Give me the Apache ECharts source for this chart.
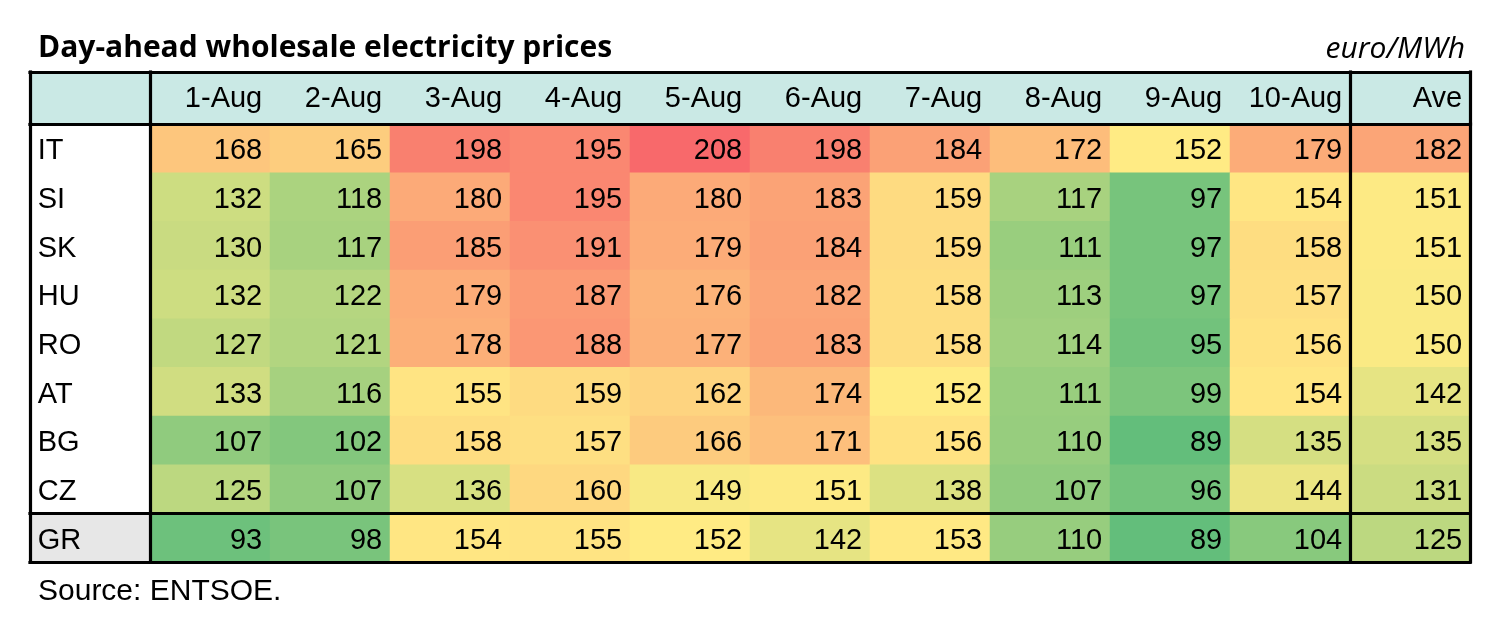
<!DOCTYPE html>
<html>
<head>
<meta charset="utf-8">
<script src="https://cdn.jsdelivr.net/npm/echarts@6/dist/echarts.min.js"></script>
<style>
html,body{margin:0;padding:0;background:#fff;}
#chart{width:1510px;height:624px;}
</style>
</head>
<body>
<div id="chart"></div>
<script>
// ---- data ----
const days = ['1-Aug','2-Aug','3-Aug','4-Aug','5-Aug','6-Aug','7-Aug','8-Aug','9-Aug','10-Aug'];
const aveLabel = 'Ave';
const countries = ['IT','SI','SK','HU','RO','AT','BG','CZ','GR'];
const IT = [168,165,198,195,208,198,184,172,152,179];
const SI = [132,118,180,195,180,183,159,117,97,154];
const SK = [130,117,185,191,179,184,159,111,97,158];
const HU = [132,122,179,187,176,182,158,113,97,157];
const RO = [127,121,178,188,177,183,158,114,95,156];
const AT = [133,116,155,159,162,174,152,111,99,154];
const BG = [107,102,158,157,166,171,156,110,89,135];
const CZ = [125,107,136,160,149,151,138,107,96,144];
const GR = [93,98,154,155,152,142,153,110,89,104];
const averages = [182,151,151,150,150,142,135,131,125];
const rows = [IT,SI,SK,HU,RO,AT,BG,CZ,GR];

// ---- build ----
const xCats = [''].concat(days, [aveLabel]);
const FONT = '"Liberation Sans", Arial, sans-serif';
const TFONT = '"Open Sans", "Liberation Sans", sans-serif';

const cells = [];
rows.forEach((r, i) => {
  r.forEach((v, j) => cells.push([j + 1, i, v]));
  cells.push([days.length + 1, i, averages[i]]);
});
const allVals = cells.map(c => c[2]);
const MIN = Math.min(...allVals), MAX = Math.max(...allVals), MID = 152;

const GREEN = [99,190,123], YELLOW = [255,235,132], RED = [248,105,107];
function mix(a, b, t) { return 'rgb(' + a.map((x, k) => Math.round(x + (b[k] - x) * t)).join(',') + ')'; }
function scaleColor(v) {
  return v <= MID ? mix(GREEN, YELLOW, (v - MIN) / (MID - MIN)) : mix(YELLOW, RED, (v - MID) / (MAX - MID));
}
const stops = [];
for (let i = 0; i <= 119; i++) stops.push(scaleColor(MIN + (MAX - MIN) * i / 119));

const headerCells = xCats.map((c, j) => [j, 0, 0]);
const labelCells = countries.map((c, i) => ({
  value: [0, i, 0],
  itemStyle: { color: c === 'GR' ? '#E7E7E7' : '#FFFFFF' }
}));

// table rule positions, in column / row units
const ruleX = [0, 1, 11, 12];
const headRuleY = [0, 1];
const bodyRuleY = [8, 9];

const rule = (xi, yi, ys) => ({
  type: 'line', xAxisIndex: xi, yAxisIndex: yi, data: [[0, 0]], symbol: 'none',
  lineStyle: { width: 0 }, clip: false, silent: true, z: 10,
  markLine: {
    silent: true, symbol: ['none', 'none'], label: { show: false }, animation: false,
    lineStyle: { color: '#000', width: 3.2, type: 'solid', cap: 'square' },
    emphasis: { disabled: true },
    data: ruleX.map(v => ({ xAxis: v })).concat(ys.map(v => ({ yAxis: v })))
  }
});

const cellLabel = extra => Object.assign({
  show: true, color: '#000', fontFamily: FONT, fontSize: 29, offset: [0, 3]
}, extra);

const chart = echarts.init(document.getElementById('chart'));
chart.setOption({
  animation: false,
  backgroundColor: '#fff',
  title: [
    { text: 'Day-ahead wholesale electricity prices', left: 38, top: 33, padding: 0,
      textStyle: { fontFamily: TFONT, fontWeight: 'bold', fontSize: 30, lineHeight: 30, color: '#000' } },
    { text: 'euro/MWh', right: 45, top: 34, padding: 0,
      textStyle: { fontFamily: TFONT, fontStyle: 'italic', fontWeight: 'normal', fontSize: 30, lineHeight: 30, color: '#000' } },
    { text: 'Source: ENTSOE.', left: 38, top: 577, padding: 0,
      textStyle: { fontFamily: FONT, fontWeight: 'normal', fontSize: 30, lineHeight: 30, color: '#000' } }
  ],
  grid: [
    { left: 30, top: 72, width: 1440, height: 52 },
    { left: 30, top: 124, width: 1440, height: 438 }
  ],
  xAxis: [
    { type: 'category', data: xCats, show: false, gridIndex: 0 },
    { type: 'category', data: xCats, show: false, gridIndex: 1 },
    { type: 'value', min: 0, max: 12, show: false, gridIndex: 0 },
    { type: 'value', min: 0, max: 12, show: false, gridIndex: 1 }
  ],
  yAxis: [
    { type: 'category', data: [''], show: false, gridIndex: 0 },
    { type: 'category', data: countries, inverse: true, show: false, gridIndex: 1 },
    { type: 'value', min: 0, max: 1, inverse: true, show: false, gridIndex: 0 },
    { type: 'value', min: 0, max: 9, inverse: true, show: false, gridIndex: 1 }
  ],
  visualMap: {
    type: 'continuous', show: false, seriesIndex: 0, dimension: 2,
    min: MIN, max: MAX, inRange: { color: stops }
  },
  series: [
    {
      type: 'heatmap', xAxisIndex: 1, yAxisIndex: 1, data: cells,
      label: cellLabel({ position: 'insideRight', distance: 8, formatter: p => p.value[2] }),
      emphasis: { disabled: true }
    },
    {
      type: 'heatmap', xAxisIndex: 0, yAxisIndex: 0, data: headerCells,
      itemStyle: { color: '#CAE9E5' },
      label: cellLabel({ position: 'insideRight', distance: 8, offset: [0, 1], formatter: p => xCats[p.value[0]] }),
      emphasis: { disabled: true }
    },
    {
      type: 'heatmap', xAxisIndex: 1, yAxisIndex: 1, data: labelCells,
      label: cellLabel({ position: 'insideLeft', distance: 8, formatter: p => countries[p.value[1]] }),
      emphasis: { disabled: true }
    },
    rule(2, 2, headRuleY),
    rule(3, 3, bodyRuleY)
  ]
});
</script>
</body>
</html>
